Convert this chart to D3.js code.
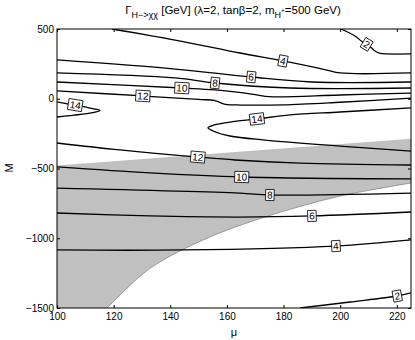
<!DOCTYPE html>
<html><head><meta charset="utf-8">
<script src="https://cdn.jsdelivr.net/npm/d3@7"></script>
<style>body{margin:0;background:#fff}text{font-family:"Liberation Sans",Arial,sans-serif;fill:#000}</style>
</head><body><svg id="c" width="415" height="340"></svg>
<script>
// ---- data ----
const xDomain=[100,225];
const yDomain=[-1500,500];
const xTicks=[100,120,140,160,180,200,220];
const yTicks=[500,0,-500,-1000,-1500];

// contour lines [mu, M]
const c2Top=[[200.3,500],[205.2,450],[207.7,410],[210.5,375],[212.3,342],[214.1,325],[216.5,321],[225,321]];
const c4Top=[[119.4,500],[141.7,421],[164.6,328],[179.8,271],[195.3,206],[199.9,185],[225,185]];
const c6Top=[[100,278],[141.7,213],[168.5,156],[190,120],[225,120]];
const c8Top=[[100,185],[141.7,149],[155.8,113],[182.3,77],[225,77]];
const c10Top=[[100,120],[144.1,77],[155.8,63],[170,30],[175,15],[199.9,27],[225,41]];
const c12Top=[[100,56],[130.4,20],[150,-5],[155.5,-12],[157.2,-24],[159.5,-40],[165,-45],[180,-44],[199.9,-25],[225,5]];
const c14Left=[[100,-23],[103.9,-38],[106.4,-45],[109.9,-59],[113.5,-74],[115.2,-84],[112.5,-100],[106,-118],[100,-131]];
const c14Right=[[225,-66],[199.9,-95],[182.3,-116],[170.6,-145],[161.1,-167],[155.5,-188],[153.3,-208],[155.1,-231],[161.1,-267],[173.4,-296],[199.9,-339],[225,-375]];
const c12Bot=[[100,-317],[122.2,-367],[149.8,-418],[162.9,-439],[185.8,-461],[225,-475]];
const c10Bot=[[100,-489],[132.8,-532],[165.3,-561],[225,-575]];
const c8Bot=[[100,-640],[164.6,-676],[175.2,-690],[225,-676]];
const c6Bot=[[100,-819],[132.8,-840],[164.6,-848],[190,-840],[225,-812]];
const c4Bot=[[100,-1084],[144.1,-1084],[198.2,-1056],[225,-1012]];
const c2Bot=[[185.8,-1500],[203.5,-1457],[220.1,-1414],[225,-1392]];

// shaded region
const grayTop=[[100,-478],[225,-287]];
const grayCurve=[[225,-604],[201.7,-690],[187.6,-762],[173.4,-848],[158.3,-955],[144.1,-1084],[134.6,-1192],[128.6,-1285],[117.7,-1500]];

// labels: [text, contour, mu, M]
const labelText=["2","4","6","8","10","12","14","14","12","10","8","6","4","2"];
const labelLine=["c2Top","c4Top","c6Top","c8Top","c10Top","c12Top","c14Left","c14Right","c12Bot","c10Bot","c8Bot","c6Bot","c4Bot","c2Bot"];
const labelMu=[209.5,179.8,168.5,155.8,144.1,130.4,106.4,170.6,149.8,165.3,175.2,190.0,198.5,220.1];
const labelM=[392,271,156,113,70,20,-45,-145,-418,-561,-697,-840,-1056,-1414];

const contours={c2Top,c4Top,c6Top,c8Top,c10Top,c12Top,c14Left,c14Right,c12Bot,c10Bot,c8Bot,c6Bot,c4Bot,c2Bot};

// ---- drawing ----
const svg=d3.select("#c");
const x=d3.scaleLinear().domain(xDomain).range([57,411]);
const y=d3.scaleLinear().domain(yDomain).range([308,29]);

svg.append("defs").append("clipPath").attr("id","clip").append("rect")
  .attr("x",57).attr("y",29).attr("width",354).attr("height",279);
const plot=svg.append("g").attr("clip-path","url(#clip)");

const line=d3.line().x(d=>x(d[0])).y(d=>y(d[1])).curve(d3.curveCatmullRom.alpha(0.5));

// gray region
const curveStr=line(grayCurve).replace(/^M/,"L");
const grayPath="M"+x(xDomain[0])+","+y(yDomain[0])+
  "L"+x(grayTop[0][0])+","+y(grayTop[0][1])+
  "L"+x(grayTop[1][0])+","+y(grayTop[1][1])+curveStr+"Z";
plot.append("path").attr("d",grayPath).attr("fill","#c0c0c0");
plot.append("path").attr("d",line(grayCurve)).attr("fill","none").attr("stroke","#7a7a7a").attr("stroke-width",0.7);

// contour lines
const paths={};
for(const k in contours){
  paths[k]=plot.append("path").attr("d",line(contours[k])).attr("fill","none")
    .attr("stroke","#000").attr("stroke-width",1.3).node();
}

// labels
const lg=svg.append("g");
labelText.forEach((t,i)=>{
  const p=paths[labelLine[i]];
  const tx=x(labelMu[i]),ty=y(labelM[i]);
  const L=p.getTotalLength();
  let best=0,bd=1e9;
  for(let l=0;l<=L;l+=0.5){const q=p.getPointAtLength(l);const d=(q.x-tx)**2+(q.y-ty)**2;if(d<bd){bd=d;best=l;}}
  const q=p.getPointAtLength(best);
  const a=p.getPointAtLength(Math.max(0,best-3)),b=p.getPointAtLength(Math.min(L,best+3));
  let ang=Math.atan2(b.y-a.y,b.x-a.x)*180/Math.PI;
  if(ang>90)ang-=180; if(ang<-90)ang+=180;
  const g=lg.append("g").attr("transform",`translate(${q.x},${q.y}) rotate(${ang})`);
  const rect=g.append("rect");
  const txt=g.append("text").attr("text-anchor","middle").attr("dy","0.36em").style("font-size","10px").text(t);
  const w=txt.node().getComputedTextLength()+3;
  rect.attr("x",-w/2).attr("y",-5.5).attr("width",w).attr("height",11)
    .attr("fill","#fff").attr("stroke","#000").attr("stroke-width",0.8);
});

// axes
const ax=svg.append("g").style("font-size","10px");
ax.append("g").attr("transform","translate(0,308)")
  .call(d3.axisBottom(x).tickValues(xTicks).tickSizeInner(-3).tickSizeOuter(0).tickPadding(5));
ax.append("g").attr("transform","translate(57,0)")
  .call(d3.axisLeft(y).tickValues(yTicks).tickSizeInner(-3).tickSizeOuter(0).tickPadding(3).tickFormat(d=>d<0?"\u2212"+Math.abs(d):String(d)));
ax.append("g").attr("transform","translate(0,29)")
  .call(d3.axisTop(x).tickValues(xTicks).tickSizeInner(-3).tickSizeOuter(0).tickFormat(""));
ax.append("g").attr("transform","translate(411,0)")
  .call(d3.axisRight(y).tickValues(yTicks).tickSizeInner(-3).tickSizeOuter(0).tickFormat(""));
ax.selectAll(".domain").remove();
ax.selectAll("text").style("font-family","'Liberation Sans',Arial,sans-serif").style("font-size","10px");
ax.selectAll("line").attr("stroke","#000");
svg.append("rect").attr("x",57).attr("y",29).attr("width",354).attr("height",279)
  .attr("fill","none").attr("stroke","#000").attr("stroke-width",1);

// axis titles
svg.append("text").attr("x",234).attr("y",336).attr("text-anchor","middle").style("font-size","11px").text("μ");
svg.append("text").attr("transform","translate(13,168) rotate(-90)").attr("text-anchor","middle").style("font-size","11px").text("M");

// title
const tt=svg.append("text").attr("x",233).attr("y",14).attr("text-anchor","middle").style("font-size","11.5px");
tt.append("tspan").text("Γ");
tt.append("tspan").attr("dy",4).style("font-size","9px").text("H−>χχ");
tt.append("tspan").attr("dy",-4).text(" [GeV] (λ=2, tanβ=2, m");
tt.append("tspan").attr("dy",4).style("font-size","9px").text("H");
tt.append("tspan").attr("dy",-5).style("font-size","6.5px").text("+");
tt.append("tspan").attr("dy",1).text("=500 GeV)");
</script></body></html>
